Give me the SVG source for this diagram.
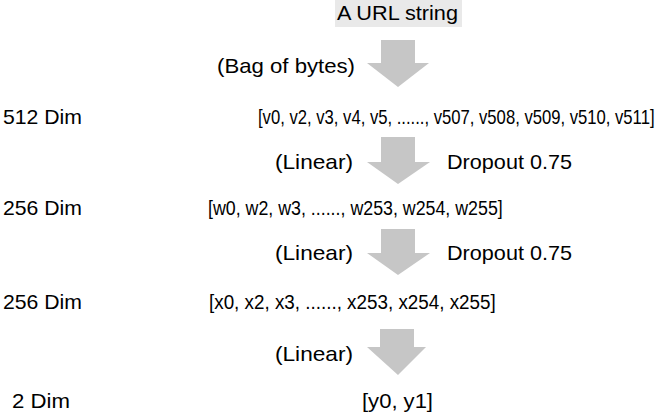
<svg xmlns="http://www.w3.org/2000/svg" width="664" height="414" viewBox="0 0 664 414">
<style>
text{font-family:"Liberation Sans",Arial,Helvetica,sans-serif;font-size:21px;fill:#000}
.arr{fill:#c6c6c6}
</style>
<rect width="664" height="414" fill="#fff"/>
<g id="input">
<rect x="335" y="0" width="127" height="27" fill="#e9e9e9"/>
<text x="337" y="20" textLength="121" lengthAdjust="spacingAndGlyphs">A URL string</text>
</g>
<g id="connectors">
<polygon class="arr" points="381,40 415,40 415,63 429,63 398,87 367,63 381,63"/>
<polygon class="arr" points="381,137 415,137 415,162 430,162 398,184 367,162 381,162"/>
<polygon class="arr" points="381,229 415,229 415,253 430,253 398,275 367,253 381,253"/>
<polygon class="arr" points="380,329 414,329 414,347 426,347 398,375 367,347 380,347"/>
</g>
<g id="labels">
<text x="217" y="73" textLength="138" lengthAdjust="spacingAndGlyphs">(Bag of bytes)</text>
<text x="275" y="169" textLength="78" lengthAdjust="spacingAndGlyphs">(Linear)</text>
<text x="447" y="169" textLength="125" lengthAdjust="spacingAndGlyphs">Dropout 0.75</text>
<text x="275" y="260" textLength="78" lengthAdjust="spacingAndGlyphs">(Linear)</text>
<text x="447" y="260" textLength="125" lengthAdjust="spacingAndGlyphs">Dropout 0.75</text>
<text x="275" y="361" textLength="78" lengthAdjust="spacingAndGlyphs">(Linear)</text>
</g>
<g id="layer512">
<text x="3" y="124" textLength="79" lengthAdjust="spacingAndGlyphs">512 Dim</text>
<text transform="translate(258,124) scale(0.793,1)">[v0, v2, v3, v4, v5, ......, v507, v508, v509, v510, v511]</text>
</g>
<g id="layer256a">
<text x="3" y="215" textLength="79" lengthAdjust="spacingAndGlyphs">256 Dim</text>
<text transform="translate(208,215) scale(0.848,1)">[w0, w2, w3, ......, w253, w254, w255]</text>
</g>
<g id="layer256b">
<text x="3" y="309" textLength="79" lengthAdjust="spacingAndGlyphs">256 Dim</text>
<text transform="translate(209,309) scale(0.897,1)">[x0, x2, x3, ......, x253, x254, x255]</text>
</g>
<g id="output">
<text x="12" y="408" textLength="58" lengthAdjust="spacingAndGlyphs">2 Dim</text>
<text x="362" y="408" textLength="71" lengthAdjust="spacingAndGlyphs">[y0, y1]</text>
</g>
</svg>
